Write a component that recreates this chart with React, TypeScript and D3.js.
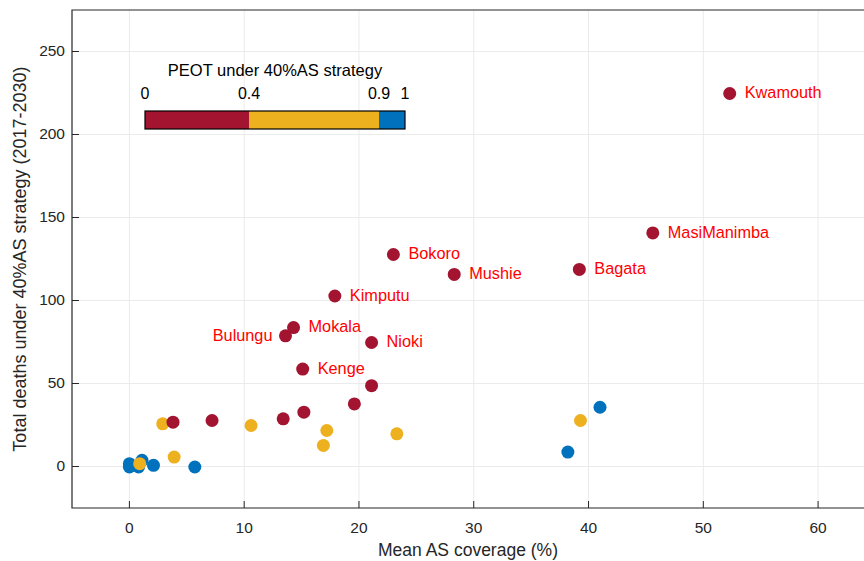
import React, { useEffect, useRef } from "react";
import * as d3 from "d3";

// Mean AS coverage (%), total deaths, PEOT class (0: <0.4, 1: 0.4-0.9, 2: >0.9), label
const xs = [52.3, 45.6, 39.2, 23.0, 28.3, 17.9, 14.3, 13.6, 21.1, 15.1,
  21.1, 19.6, 15.2, 13.4, 7.2, 3.8,
  2.9, 10.6, 17.2, 16.9, 23.3, 39.3, 3.9, 0.9,
  41.0, 38.2, 5.7, 2.1, 1.1, 0.0, 0.0, 0.8];
const ys = [225, 141, 119, 128, 116, 103, 84, 79, 75, 59,
  49, 38, 33, 29, 28, 27,
  26, 25, 22, 13, 20, 28, 6, 2,
  36, 9, 0, 1, 4, 2, 0, 0];
const peot = [0, 0, 0, 0, 0, 0, 0, 0, 0, 0,
  0, 0, 0, 0, 0, 0,
  1, 1, 1, 1, 1, 1, 1, 1,
  2, 2, 2, 2, 2, 2, 2, 2];
const labels = ["Kwamouth", "MasiManimba", "Bagata", "Bokoro", "Mushie", "Kimputu", "Mokala", "Bulungu", "Nioki", "Kenge"];
const xTicks = [0, 10, 20, 30, 40, 50, 60];
const yTicks = [0, 50, 100, 150, 200, 250];
const barStops = [0, 0.4, 0.9, 1];
const classColors = ["#A2142F", "#EDB120", "#0072BD"];

const W = 864;
const H = 561;
const font = "'Liberation Sans', Arial, sans-serif";

export default function App() {
  const ref = useRef<SVGSVGElement>(null);
  useEffect(() => {
    const svg = d3.select(ref.current);
    svg.selectAll("*").remove();
    const left = 72, right = 864, top = 10, bottom = 508;
    const x = d3.scaleLinear().domain([-5, 64]).range([left, right]);
    const y = d3.scaleLinear().domain([-25, 275]).range([bottom, top]);

    const g = svg.append("g");
    // grid
    g.selectAll(".gx").data(xTicks).join("line")
      .attr("x1", d => x(d)).attr("x2", d => x(d)).attr("y1", top).attr("y2", bottom)
      .attr("stroke", "#ebebeb").attr("stroke-width", 1);
    g.selectAll(".gy").data(yTicks).join("line")
      .attr("class", "gy")
      .attr("x1", left).attr("x2", right).attr("y1", d => y(d)).attr("y2", d => y(d))
      .attr("stroke", "#ebebeb").attr("stroke-width", 1);

    // frame
    g.append("path")
      .attr("d", `M${right},${top}H${left}V${bottom}H${right}`)
      .attr("fill", "none").attr("stroke", "#262626").attr("stroke-width", 1.2);

    // ticks
    g.selectAll(".tx").data(xTicks).join("line")
      .attr("class", "tx")
      .attr("x1", d => x(d)).attr("x2", d => x(d)).attr("y1", bottom).attr("y2", bottom - 7)
      .attr("stroke", "#262626");
    g.selectAll(".ty").data(yTicks).join("line")
      .attr("class", "ty")
      .attr("x1", left).attr("x2", left + 7).attr("y1", d => y(d)).attr("y2", d => y(d))
      .attr("stroke", "#262626");

    g.selectAll(".lx").data(xTicks).join("text")
      .attr("class", "lx")
      .attr("x", d => x(d)).attr("y", bottom + 21)
      .attr("text-anchor", "middle").attr("dominant-baseline", "middle")
      .attr("font-family", font).attr("font-size", 15.5).attr("fill", "#262626")
      .text(d => d);
    g.selectAll(".ly").data(yTicks).join("text")
      .attr("class", "ly")
      .attr("x", left - 7).attr("y", d => y(d))
      .attr("text-anchor", "end").attr("dominant-baseline", "middle")
      .attr("font-family", font).attr("font-size", 15.5).attr("fill", "#262626")
      .text(d => d);

    g.append("text")
      .attr("x", (left + right) / 2).attr("y", 551)
      .attr("text-anchor", "middle").attr("dominant-baseline", "middle")
      .attr("font-family", font).attr("font-size", 17.5).attr("fill", "#262626")
      .text("Mean AS coverage (%)");
    g.append("text")
      .attr("transform", `translate(21,${(top + bottom) / 2}) rotate(-90)`)
      .attr("text-anchor", "middle").attr("dominant-baseline", "middle")
      .attr("font-family", font).attr("font-size", 18).attr("fill", "#262626")
      .text("Total deaths under 40%AS strategy (2017-2030)");

    // points, drawn blue first so red/yellow sit above
    const idx = d3.range(xs.length).sort((a, b) => peot[b] - peot[a]);
    g.selectAll(".pt").data(idx).join("circle")
      .attr("class", "pt")
      .attr("cx", i => x(xs[i])).attr("cy", i => y(ys[i]) + 0.5).attr("r", 6.5)
      .attr("fill", i => classColors[peot[i]]);

    // labels
    g.selectAll(".lab").data(labels).join("text")
      .attr("class", "lab")
      .attr("x", (d, i) => d === "Bulungu" ? x(xs[i]) - 13 : x(xs[i]) + 15)
      .attr("y", (d, i) => y(ys[i]) + 1)
      .attr("text-anchor", d => d === "Bulungu" ? "end" : "start")
      .attr("dominant-baseline", "middle")
      .attr("font-family", font).attr("font-size", 16.3).attr("fill", "#FF0000")
      .text(d => d);

    // colorbar legend
    const cb = d3.scaleLinear().domain([0, 1]).range([145, 405]);
    const cbTop = 111, cbH = 18;
    const lg = svg.append("g");
    lg.selectAll("rect").data(d3.range(3)).join("rect")
      .attr("x", i => cb(barStops[i])).attr("width", i => cb(barStops[i + 1]) - cb(barStops[i]))
      .attr("y", cbTop).attr("height", cbH)
      .attr("fill", i => classColors[i]);
    lg.append("rect")
      .attr("x", cb(0)).attr("y", cbTop).attr("width", cb(1) - cb(0)).attr("height", cbH)
      .attr("fill", "none").attr("stroke", "#000").attr("stroke-width", 1.2);
    lg.selectAll("text.cbt").data(barStops).join("text")
      .attr("class", "cbt")
      .attr("x", d => cb(d)).attr("y", 95)
      .attr("text-anchor", "middle").attr("dominant-baseline", "middle")
      .attr("font-family", font).attr("font-size", 16).attr("fill", "#000")
      .text(d => d);
    lg.append("text")
      .attr("x", (cb(0) + cb(1)) / 2).attr("y", 72)
      .attr("text-anchor", "middle").attr("dominant-baseline", "middle")
      .attr("font-family", font).attr("font-size", 16.5).attr("fill", "#000")
      .text("PEOT under 40%AS strategy");
  }, []);

  return (
    <svg ref={ref} width={W} height={H} viewBox={`0 0 ${W} ${H}`}
      style={{ position: "absolute", left: 0, top: 0, background: "#fff" }} />
  );
}
